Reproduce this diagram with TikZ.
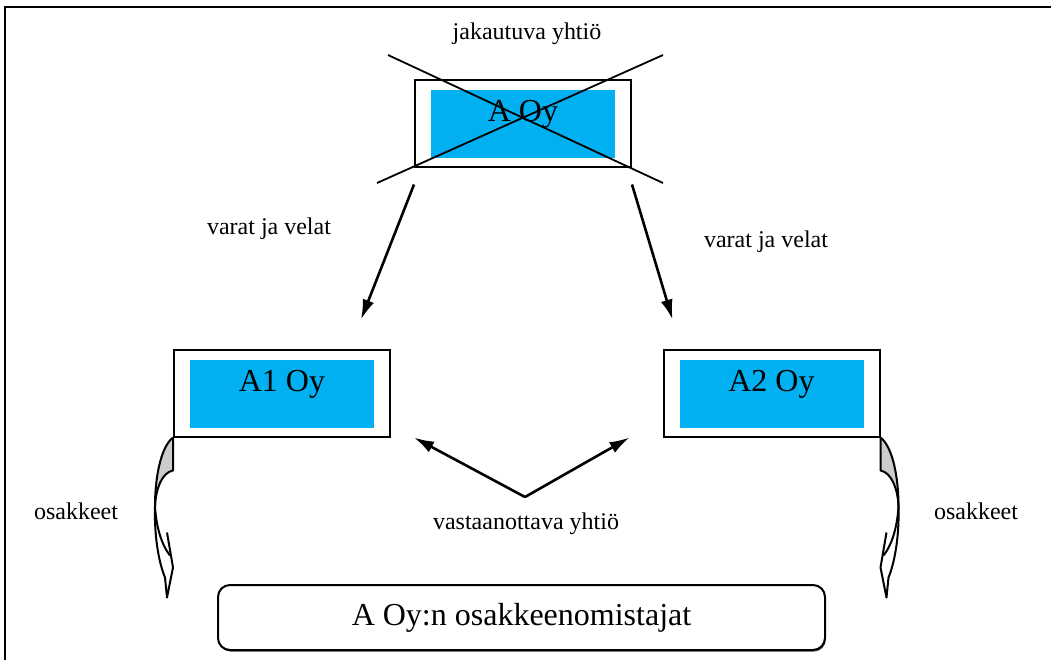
\documentclass[tikz,border=0pt]{standalone}
\usepackage{fontspec}
\setmainfont{Liberation Serif}
\usetikzlibrary{arrows.meta,shadows}
\definecolor{oyblue}{HTML}{00B0F0}

\tikzset{
  share/.pic={
    \fill[gray!40] (0,0) -- (0,33) .. controls (-11,35) and (-17,51) .. (-18,68)
      .. controls (-18,43) and (-13,10) .. (0,0) -- cycle;
    \draw[line width=1pt,line join=round] (0,0) -- (0,33) .. controls (-11,35) and (-17,51) .. (-18,68)
      .. controls (-17,90) and (-11,108) .. (-3,118);
    \draw[line width=1pt,line join=round] (0,0) .. controls (-13,10) and (-18,43) .. (-18,68)
      .. controls (-19,103) and (-13,128) .. (-8,140) -- (-6,160) -- (0,130) -- (-6,95);
  }
}

\begin{document}
\begin{tikzpicture}[x=0.5pt,y=-0.5pt,>={Latex[length=10pt,width=6pt]},font=\fontsize{12}{14}\selectfont]
\useasboundingbox (0,0) rectangle (1051,660);
\draw[line width=1pt] (5,660)--(5,7)--(1051,7);
\foreach \n/\x/\y/\name in {a/523/123/{A Oy},a1/282/393/{A1 Oy},a2/771.5/393/{A2 Oy}}{
  \node[draw,line width=1pt,minimum width=108pt,minimum height=43.5pt,inner sep=0pt] (\n) at (\x,\y) {};
  \node[fill=oyblue,minimum width=92pt,minimum height=34pt,inner sep=0pt] (\n in) at (\x,\y+1) {};
  \node[anchor=base,inner sep=0pt,font=\fontsize{16}{19}\selectfont] (\n txt) at (\x,\y-2) {\name};
}
\draw[line width=0.9pt] (388,55)--(663,183);
\draw[line width=0.9pt] (663,55)--(377,183);
\node (top) at (527,34) {jakautuva yhtiö};

\draw[->,line width=1.3pt] ([yshift=-8.5pt]a.south west) -- ([xshift=-15pt,yshift=14.5pt]a1.north east);
\draw[->,line width=1.3pt] ([yshift=-8.5pt]a.south east) -- ([xshift=5pt,yshift=14.5pt]a2.north west);
\node (vl) at (269,229) {varat ja velat};
\node (vr) at (766,242) {varat ja velat};

\coordinate (v) at (525,497);
\draw[->,line width=1.3pt] (v) -- ([xshift=11.5pt]a1.south east);
\draw[->,line width=1.3pt] (v) -- ([xshift=-16.5pt]a2.south west);
\node (recv) at (526,524) {vastaanottava yhtiö};

\pic at (a1.south west) {share};
\pic[xscale=-1] at (a2.south east) {share};
\node (sl) at (76,511) {osakkeet};
\node (sr) at (976,511) {osakkeet};

\node[draw,fill=white,line width=1pt,rounded corners=6pt,minimum width=303.5pt,minimum height=32.5pt,
  drop shadow={shadow xshift=0.4pt,shadow yshift=-0.8pt,fill=black,opacity=0.7},
  font=\fontsize{16}{19}\selectfont] (owners) at (521.5,617.5) {A Oy:n osakkeenomistajat};
\end{tikzpicture}
\end{document}
